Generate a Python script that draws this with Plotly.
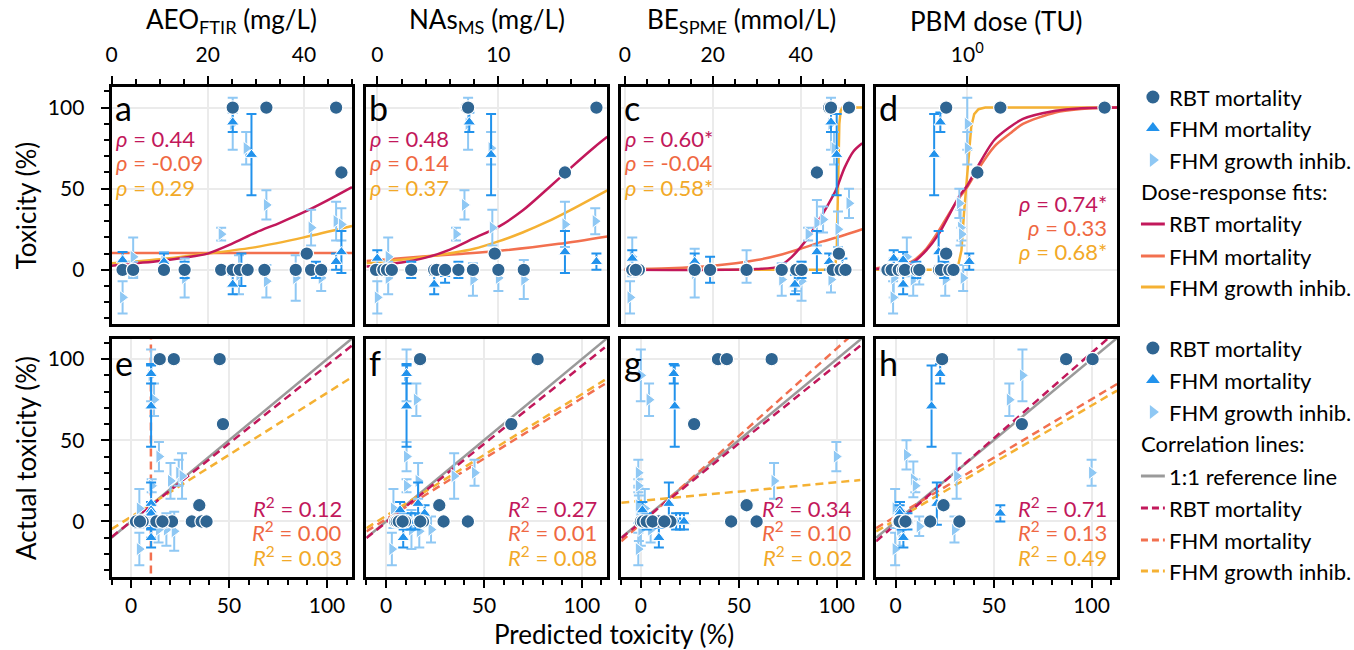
import math
import plotly.graph_objects as go

W, H = 1354, 650
FONT = "Lato"

C_RBT = "#2f6592"
C_FHM = "#2192ec"
C_GRO = "#8fc8f4"
C_L_RBT = "#c2185b"
C_L_FHM = "#f2704f"
C_L_GRO = "#f5b133"
C_GRAY = "#9a9a9a"

# ---------------- panel a : AEO_FTIR (mg/L) vs toxicity ----------------
a_rbt_x = [2.3, 4.5, 10.9, 15.2, 22.8, 25.2, 26.7, 28.3, 31.8, 38.3, 41.5, 43.6, 40.6, 25.2, 32.2, 46.7, 47.8]
a_rbt_y = [0, 0, 0, 0, 0, 0, 0, 0, 0, 0, 0, 0, 10, 100, 100, 100, 60]
a_fhm_x = [2.3, 10.9, 25.2, 29.1, 47.8, 46.7, 25.2, 27.0, 15.2, 42.5]
a_fhm_y = [6, 5, 91, 71, 11, 5, -9, 0, 0, 0]
a_fhm_e = [5, 5, 6, 25, 13, 5, 6, 10, 5, 5]
a_gro_x = [2.3, 4.5, 10.9, 15.2, 22.8, 25.2, 28.0, 32.2, 32.2, 38.3, 41.5, 43.6, 46.7, 47.8, 26.5, 4.5]
a_gro_y = [-17, 8, 5, -5, 22, 90, 75, 40, -7, -5, 26, -5, 30, 28, -3, 0]
a_gro_e = [10, 12, 6, 12, 4, 16, 10, 9, 10, 14, 11, 8, 12, 10, 12, 5]
a_fit_rbt_x = [0, 5, 10, 15, 20, 25, 30, 35, 40, 45, 50]
a_fit_rbt_y = [2.5, 4, 5.5, 7.5, 10, 16, 23, 29, 35.5, 43, 51]
a_fit_fhm_x = [0, 50]
a_fit_fhm_y = [10.3, 10.3]
a_fit_gro_x = [0, 10, 20, 30, 40, 50]
a_fit_gro_y = [4, 6.5, 10, 14, 20, 27]

# ---------------- panel b : NAs_MS (mg/L) ----------------
b_rbt_x = [-0.1, 0.5, 0.8, 1.2, 2.8, 4.7, 4.9, 5.6, 6.7, 7.9, 10.0, 12.1, 9.7, 7.4, 7.5, 18.1, 15.5]
b_rbt_y = [0, 0, 0, 0, 0, 0, 0, 0, 0, 0, 0, 0, 10, 100, 100, 100, 60]
b_fhm_x = [0.0, 7.6, 9.4, 15.5, 18.1, 4.7, 6.7, 5.6, 2.8]
b_fhm_y = [7, 91, 71, 11, 5, -9, 0, -3, 0]
b_fhm_e = [5, 6, 25, 13, 5, 6, 5, 5, 5]
b_gro_x = [0.0, 0.9, 0.9, 7.2, 6.5, 9.5, 9.4, 7.5, 15.5, 18.0, 7.9, 12.1, 10.0, 2.8]
b_gro_y = [-17, 8, -5, 40, 22, 26, 75, 90, 28, 30, -6, -6, -5, 0]
b_gro_e = [10, 12, 10, 9, 4, 11, 10, 16, 14, 8, 10, 12, 8, 5]
b_fit_rbt_x = [-0.9, 2, 4, 6, 8, 10, 12, 14, 16, 18, 19]
b_fit_rbt_y = [2, 4.5, 7.5, 12.5, 19.5, 26.5, 36.5, 49.5, 63, 76, 82]
b_fit_fhm_x = [-0.9, 4, 10, 15, 19]
b_fit_fhm_y = [5.5, 8.3, 11.6, 16, 20.6]
b_fit_gro_x = [-0.9, 4, 8, 10, 12, 14, 16, 18, 19]
b_fit_gro_y = [4, 8, 13, 17.5, 23, 29.5, 37, 45, 49]

# ---------------- panel c : BE_SPME (mmol/L) ----------------
c_rbt_x = [1.7, 3.2, 15.9, 19.4, 27.7, 35.7, 39.0, 40.2, 47.3, 49.1, 50.2, 2.5, 48.7, 46.5, 46.9, 51.0, 43.7]
c_rbt_y = [0, 0, 0, 0, 0, 0, 0, 0, 0, 0, 0, 0, 10, 100, 100, 100, 60]
c_fhm_x = [1.7, 15.9, 19.4, 46.9, 48.2, 43.7, 46.5, 38.7, 49.5, 40.2]
c_fhm_y = [7, 5, 0, 91, 71, 11, 5, -9, 2, 0]
c_fhm_e = [5, 5, 8, 6, 25, 13, 5, 6, 5, 5]
c_gro_x = [1.2, 1.7, 15.9, 27.7, 35.7, 40.2, 41.7, 43.7, 45.1, 47.6, 46.9, 48.5, 51.0, 46.9, 39.0]
c_gro_y = [-17, 8, -2, 2, -6, -7, 22, 29, 31, 75, 90, 25, 41, -6, -5]
c_gro_e = [10, 12, 15, 10, 10, 12, 4, 14, 8, 10, 16, 11, 9, 8, 8]
c_fit_rbt_x = [0, 30, 35, 38, 40, 42, 44, 46, 48, 50, 52, 54]
c_fit_rbt_y = [0, 0.5, 2, 8, 14, 21, 30, 39, 49, 63, 73, 78]
c_fit_fhm_x = [0, 10, 20, 30, 35, 40, 45, 50, 54]
c_fit_fhm_y = [0.5, 1, 2.5, 6, 9, 13, 17.5, 21.5, 25]
c_fit_gro_x = [0, 46, 47.8, 48.2, 48.5, 48.8, 49.1, 49.5, 54]
c_fit_gro_y = [0, 0, 1, 10, 50, 90, 98, 100, 100]

# ---------------- panel d : PBM dose (TU) ----------------
d_rbt_x = [0.366, 0.37, 0.39, 0.426, 0.45, 0.46, 0.533, 0.55, 0.703, 0.72, 0.80, 0.842, 0.769, 0.769, 1.51, 5.53, 1.134]
d_rbt_y = [0, 0, 0, 0, 0, 0, 0, 0, 0, 0, 0, 0, 10, 100, 100, 100, 60]
d_fhm_x = [0.40, 0.45, 0.715, 0.662, 0.70, 1.025, 0.45, 0.75, 0.53]
d_fhm_y = [7, 6, 91, 71, 11, 5, -9, 0, 0]
d_fhm_e = [5, 5, 6, 25, 13, 5, 6, 5, 5]
d_gro_x = [0.397, 0.471, 1.0, 1.0, 0.906, 0.92, 0.93, 0.76, 0.51, 0.95, 0.40, 0.55]
d_gro_y = [-17, 8, 90, 75, 41, 26, 22, -6, -6, -5, -5, -3]
d_gro_e = [10, 12, 16, 10, 9, 11, 4, 10, 10, 8, 12, 6]
d_fit_rbt_x = [0.32, 0.4, 0.5, 0.6, 0.7, 0.8, 0.9, 1.0, 1.13, 1.4, 1.7, 2.0, 3.0, 4.0, 6.46]
d_fit_rbt_y = [0.5, 1.5, 4, 12, 22, 34, 45, 52, 63, 80, 88, 93, 98, 99.5, 100]
d_fit_fhm_x = [0.32, 0.4, 0.5, 0.6, 0.7, 0.8, 0.9, 1.0, 1.13, 1.4, 1.7, 2.0, 3.0, 4.0, 6.46]
d_fit_fhm_y = [1, 2.5, 5, 13, 24, 35, 44, 51, 61, 76, 84, 90, 97, 99, 100]
d_fit_gro_x = [0.32, 0.85, 0.89, 0.93, 0.96, 0.99, 1.02, 1.05, 1.09, 1.15, 1.25, 6.46]
d_fit_gro_y = [0, 0, 2, 12, 35, 55, 75, 88, 96, 99, 100, 100]
d_minor_ticks = [0.4, 0.5, 0.6, 0.7, 0.8, 0.9, 2, 3, 4, 5, 6]

# ---------------- panel e : predicted vs actual (AEO) ----------------
e_rbt_x = [3.4, 5.9, 12.9, 17.6, 20.9, 31, 36, 38.5, 2.5, 4.5, 16, 34.8, 14.6, 21.8, 45.2, 46.9]
e_rbt_y = [0, 0, 0, 0, 0, 0, 0, 0, 0, 0, 0, 10, 100, 100, 100, 60]
e_fhm_x = [10.2, 10.2, 10.2, 10.2, 10.2, 10.2, 10.2, 10.2, 10.2]
e_fhm_y = [91, 71, 11, 7, 5, 5, 0, -10, 0]
e_fhm_e = [6, 25, 13, 5, 5, 5, 5, 6, 10]
e_gro_x = [10.2, 11.7, 14.2, 20.1, 24.3, 4.2, 4.2, 10.5, 18, 22, 14, 26]
e_gro_y = [90, 75, 40, 25, 30, 8, -17, 22, -5, -6, -5, 28]
e_gro_e = [16, 10, 9, 11, 8, 12, 10, 4, 10, 12, 8, 14]
e_reg_rbt = ([-10, 112.6], [-9.6, 108.2])
e_reg_fhm = ([10.1, 10.1], [-40, 120])
e_reg_gro = ([-10, 112.6], [-4.7, 88.8])

# ---------------- panel f : predicted vs actual (NAs) ----------------
f_rbt_x = [4.7, 7.2, 9.7, 18.9, 29.4, 41.8, 5.5, 6.5, 8.5, 17.5, 27.2, 17.2, 17.4, 77.4, 64]
f_rbt_y = [0, 0, 0, 0, 0, 0, 0, 0, 0, 0, 10, 100, 100, 100, 60]
f_fhm_x = [10.5, 10.5, 16.4, 19.7, 7.2, 8.8, 9, 12.5, 15]
f_fhm_y = [91, 71, 11, 5, 7, -10, 0, 0, 0]
f_fhm_e = [6, 25, 13, 5, 5, 6, 5, 5, 5]
f_gro_x = [10.5, 15.5, 10.5, 10.5, 34.8, 45.2, 16.4, 3.0, 3.8, 23, 17, 13]
f_gro_y = [90, 75, 40, 22, 28, 30, 25, -17, 8, -5, -6, -5]
f_gro_e = [16, 10, 9, 4, 14, 8, 11, 10, 12, 8, 10, 12]
f_reg_rbt = ([-10, 111.7], [-10.2, 107.2])
f_reg_fhm = ([-10, 111.7], [-6.1, 84.7])
f_reg_gro = ([-10, 111.7], [-4.1, 87.2])

# ---------------- panel g : predicted vs actual (BE) ----------------
g_rbt_x = [0, 5, 9.2, 15.1, 46.1, 59.1, 1, 3, 6, 12, 54, 39.4, 43.9, 66.8, 27.2]
g_rbt_y = [0, 0, 0, 0, 0, 0, 0, 0, 0, 0, 10, 100, 100, 100, 60]
g_fhm_x = [16.8, 17.3, 14.3, 0.8, 20, 9.2, 18, 22, 3]
g_fhm_y = [91, 71, 11, 7, 0, -10, 0, 0, 0]
g_fhm_e = [6, 25, 13, 5, 5, 6, 5, 5, 5]
g_gro_x = [0, 4.2, -1.3, -1.3, -1.3, 68, 99.8, -1.3, 0, 2, 5, -1]
g_gro_y = [90, 75, 30, 22, 10, 25, 40, -17, -5, 8, -5, 2]
g_gro_e = [16, 10, 8, 4, 11, 11, 9, 10, 10, 12, 8, 14]
g_reg_rbt = ([-10, 112], [-10.2, 108.2])
g_reg_fhm = ([-10, 113], [-12.2, 120.6])
g_reg_gro = ([-10, 112], [11.6, 25.5])

# ---------------- panel h : predicted vs actual (PBM) ----------------
h_rbt_x = [1.4, 2.5, 3, 5.5, 17.6, 32.5, 1.8, 4, 2, 24.4, 23.7, 87, 100.5, 64.4, 5]
h_rbt_y = [0, 0, 0, 0, 0, 0, 0, 0, 0, 10, 100, 100, 100, 60, 0]
h_fhm_x = [22.7, 18.3, 53.4, 21, 2.2, 3.9, 3, 6, 2]
h_fhm_y = [91, 71, 5, 11, 7, -10, 0, 0, 5]
h_fhm_e = [6, 25, 5, 13, 5, 6, 5, 5, 5]
h_gro_x = [64.7, 58, 100, 31.1, 5.5, 9, 10, -0.3, -0.3, 30, 12, 2]
h_gro_y = [90, 75, 30, 28, 41, 26, 22, -17, 8, -5, -3, -5]
h_gro_e = [16, 10, 8, 14, 9, 11, 4, 10, 12, 8, 6, 10]
h_reg_rbt = ([-10, 113], [-12.2, 117.6])
h_reg_fhm = ([-10, 113], [-4.1, 84.7])
h_reg_gro = ([-10, 113], [-6.1, 80.6])

ref_line = ([-10, 113], [-10, 113])

# statistics text
rho_a = ["0.44", "-0.09", "0.29"]
rho_b = ["0.48", "0.14", "0.37"]
rho_c = ["0.60*", "-0.04", "0.58*"]
rho_d = ["0.74*", "0.33", "0.68*"]
r2_e = ["0.12", "0.00", "0.03"]
r2_f = ["0.27", "0.01", "0.08"]
r2_g = ["0.34", "0.10", "0.02"]
r2_h = ["0.71", "0.13", "0.49"]

top_titles = ["AEO<sub>FTIR</sub> (mg/L)", "NAs<sub>MS</sub> (mg/L)",
              "BE<sub>SPME</sub> (mmol/L)", "PBM dose (TU)"]
letters = ["a", "b", "c", "d", "e", "f", "g", "h"]
legend_labels = ["RBT mortality", "FHM mortality", "FHM growth inhib."]

# ---------------- layout geometry (pixels) ----------------
PL = [106, 362, 618, 874]
PR = [348, 604, 860, 1116]
TOP_Y = (87, 324)
BOT_Y = (339, 577)
TOP_RANGE = [-33.4, 112.7]
BOT_RANGE = [-34.2, 112.4]

fig = go.Figure()


def ax_ids(i):
    s = "" if i == 1 else str(i)
    return "x" + s, "y" + s


def add_lines(i, xs, ys, color, dash="solid", shape="linear"):
    xa, ya = ax_ids(i)
    line = dict(color=color, width=2.5, dash=dash, shape=shape)
    if shape == "spline":
        line["smoothing"] = 0.8
    fig.add_trace(go.Scatter(x=xs, y=ys, mode="lines", line=line, xaxis=xa, yaxis=ya,
                             showlegend=False, hoverinfo="skip"))


def add_points(i, rx, ry, fx, fy, fe, gx, gy, ge):
    xa, ya = ax_ids(i)
    fig.add_trace(go.Scatter(
        x=gx, y=gy, mode="markers", xaxis=xa, yaxis=ya, showlegend=False,
        marker=dict(symbol="triangle-right", size=12, color=C_GRO, line=dict(color="white", width=1)),
        error_y=dict(type="data", array=ge, color=C_GRO, thickness=2, width=5)))
    fig.add_trace(go.Scatter(
        x=fx, y=fy, mode="markers", xaxis=xa, yaxis=ya, showlegend=False,
        marker=dict(symbol="triangle-up", size=11, color=C_FHM, line=dict(color="white", width=1)),
        error_y=dict(type="data", array=fe, color=C_FHM, thickness=2, width=5)))
    fig.add_trace(go.Scatter(
        x=rx, y=ry, mode="markers", xaxis=xa, yaxis=ya, showlegend=False,
        marker=dict(symbol="circle", size=13.5, color=C_RBT, line=dict(color="white", width=1.2))))


# top row fits
add_lines(1, a_fit_fhm_x, a_fit_fhm_y, C_L_FHM)
add_lines(1, a_fit_gro_x, a_fit_gro_y, C_L_GRO, shape="spline")
add_lines(1, a_fit_rbt_x, a_fit_rbt_y, C_L_RBT, shape="spline")
add_points(1, a_rbt_x, a_rbt_y, a_fhm_x, a_fhm_y, a_fhm_e, a_gro_x, a_gro_y, a_gro_e)

add_lines(2, b_fit_fhm_x, b_fit_fhm_y, C_L_FHM, shape="spline")
add_lines(2, b_fit_gro_x, b_fit_gro_y, C_L_GRO, shape="spline")
add_lines(2, b_fit_rbt_x, b_fit_rbt_y, C_L_RBT, shape="spline")
add_points(2, b_rbt_x, b_rbt_y, b_fhm_x, b_fhm_y, b_fhm_e, b_gro_x, b_gro_y, b_gro_e)

add_lines(3, c_fit_fhm_x, c_fit_fhm_y, C_L_FHM, shape="spline")
add_lines(3, c_fit_gro_x, c_fit_gro_y, C_L_GRO)
add_lines(3, c_fit_rbt_x, c_fit_rbt_y, C_L_RBT, shape="spline")
add_points(3, c_rbt_x, c_rbt_y, c_fhm_x, c_fhm_y, c_fhm_e, c_gro_x, c_gro_y, c_gro_e)

add_lines(4, d_fit_gro_x, d_fit_gro_y, C_L_GRO)
add_lines(4, d_fit_fhm_x, d_fit_fhm_y, C_L_FHM, shape="spline")
add_lines(4, d_fit_rbt_x, d_fit_rbt_y, C_L_RBT, shape="spline")
add_points(4, d_rbt_x, d_rbt_y, d_fhm_x, d_fhm_y, d_fhm_e, d_gro_x, d_gro_y, d_gro_e)

# bottom row
bottom = [
    (5, e_reg_rbt, e_reg_fhm, e_reg_gro, (e_rbt_x, e_rbt_y, e_fhm_x, e_fhm_y, e_fhm_e, e_gro_x, e_gro_y, e_gro_e)),
    (6, f_reg_rbt, f_reg_fhm, f_reg_gro, (f_rbt_x, f_rbt_y, f_fhm_x, f_fhm_y, f_fhm_e, f_gro_x, f_gro_y, f_gro_e)),
    (7, g_reg_rbt, g_reg_fhm, g_reg_gro, (g_rbt_x, g_rbt_y, g_fhm_x, g_fhm_y, g_fhm_e, g_gro_x, g_gro_y, g_gro_e)),
    (8, h_reg_rbt, h_reg_fhm, h_reg_gro, (h_rbt_x, h_rbt_y, h_fhm_x, h_fhm_y, h_fhm_e, h_gro_x, h_gro_y, h_gro_e)),
]
DASH = "8px,5px"
for i, rr, rf, rg, pts in bottom:
    add_lines(i, ref_line[0], ref_line[1], C_GRAY)
    add_lines(i, rg[0], rg[1], C_L_GRO, dash=DASH)
    add_lines(i, rf[0], rf[1], C_L_FHM, dash=DASH)
    add_lines(i, rr[0], rr[1], C_L_RBT, dash=DASH)
    add_points(i, *pts)

# ---------------- axes ----------------
TICK_SIZE = 21
tickfont = dict(family=FONT, size=TICK_SIZE, color="black")
base = dict(showline=True, linecolor="black", linewidth=3, mirror=True,
            showgrid=True, gridcolor="#ebebeb", gridwidth=1.5, zeroline=False,
            tickfont=tickfont, tickcolor="black", ticklen=8, tickwidth=2)


def minor_lin(dt):
    return dict(dtick=dt, tick0=0, ticks="outside", ticklen=5, tickwidth=2,
                tickcolor="black", showgrid=False)


layout = dict(width=W, height=H, margin=dict(l=0, r=0, t=0, b=0),
              plot_bgcolor="rgba(0,0,0,0)", paper_bgcolor="white",
              font=dict(family=FONT, color="black"), showlegend=False)

top_x_cfg = [
    dict(range=[0, 50.1], tick0=0, dtick=20, minor=minor_lin(5)),
    dict(range=[-0.9, 19], tick0=0, dtick=10, minor=minor_lin(2)),
    dict(range=[-0.8, 54], tick0=0, dtick=20, minor=minor_lin(5)),
    dict(type="log", range=[-0.493, 0.81], tickmode="array", tickvals=[1], ticktext=["10<sup>0</sup>"]),
]

for k in range(8):
    i = k + 1
    col = k % 4
    top = k < 4
    s = "" if i == 1 else str(i)
    ypix = TOP_Y if top else BOT_Y
    xd = [PL[col] / W, PR[col] / W]
    yd = [1 - ypix[1] / H, 1 - ypix[0] / H]
    xa = dict(base, domain=xd, anchor="y" + s, ticks="outside")
    if top:
        xa.update(side="top", ticklabelstandoff=6)
        xa.update(top_x_cfg[col])
    else:
        xa.update(range=[-10, 113], tick0=0, dtick=50, minor=minor_lin(10))
    ya = dict(base, domain=yd, anchor="x" + s, range=TOP_RANGE if top else BOT_RANGE,
              tick0=0, dtick=50)
    if col == 0:
        ya.update(ticks="outside", minor=minor_lin(10), ticklabelstandoff=12)
    else:
        ya.update(ticks="", showticklabels=False)
    layout["xaxis" + s] = xa
    layout["yaxis" + s] = ya

# minor ticks of the log axis (panel d) on a linear overlay in log10 units
layout["xaxis10"] = dict(overlaying="x4", anchor="y4", side="top", range=[-0.493, 0.81],
                         tickmode="array", tickvals=[math.log10(v) for v in d_minor_ticks],
                         ticks="outside", ticklen=5, tickwidth=2, tickcolor="black",
                         showticklabels=False, showgrid=False, zeroline=False, showline=False)

# overlay pixel axis for legend symbols
layout["xaxis9"] = dict(domain=[0, 1], range=[0, W], visible=False, anchor="y9")
layout["yaxis9"] = dict(domain=[0, 1], range=[H, 0], visible=False, anchor="x9")

fig.update_layout(**layout)

# ---------------- legends ----------------
LEG_MX, LEG_TX, LEG_L0, LEG_L1 = 1152, 1167, 1140, 1164
LEG_SIZE = 22
sym_style = [
    dict(symbol="circle", size=13, color=C_RBT),
    dict(symbol="triangle-up", size=12, color=C_FHM),
    dict(symbol="triangle-right", size=12, color=C_GRO),
]
annots = []


def txt(x, y, text, size, color="black", xanchor="left", yanchor="middle", angle=0):
    annots.append(dict(x=x / W, y=1 - y / H, xref="paper", yref="paper", text=text, showarrow=False,
                       xanchor=xanchor, yanchor=yanchor, textangle=angle, borderpad=0,
                       font=dict(family=FONT, size=size, color=color)))


blocks = [
    ([97, 128, 160], ("Dose-response fits:", 192),
     [("RBT mortality", C_L_RBT, 224), ("FHM mortality", C_L_FHM, 256), ("FHM growth inhib.", C_L_GRO, 287)],
     "solid"),
    ([348, 380, 412], ("Correlation lines:", 444),
     [("1:1 reference line", C_GRAY, 476), ("RBT mortality", C_L_RBT, 508),
      ("FHM mortality", C_L_FHM, 540), ("FHM growth inhib.", C_L_GRO, 571)],
     "dash"),
]
for ys, head, line_cols, dashes in blocks:
    for j, y in enumerate(ys):
        fig.add_trace(go.Scatter(x=[LEG_MX], y=[y], mode="markers", marker=sym_style[j],
                                 xaxis="x9", yaxis="y9", showlegend=False, hoverinfo="skip"))
        txt(LEG_TX, y, legend_labels[j], LEG_SIZE)
    txt(LEG_L0 - 1, head[1], head[0], LEG_SIZE)
    for lab, colr, y in line_cols:
        d = "solid" if (dashes == "solid" or lab.startswith("1:1")) else "7px,4px"
        fig.add_trace(go.Scatter(x=[LEG_L0, LEG_L1], y=[y, y], mode="lines",
                                 line=dict(color=colr, width=3, dash=d),
                                 xaxis="x9", yaxis="y9", showlegend=False, hoverinfo="skip"))
        txt(LEG_TX, y, lab, LEG_SIZE)

# axis titles
TITLE_SIZE = 26
centers = [(PL[c] + PR[c]) / 2 for c in range(4)]
for c in range(4):
    txt(centers[c], 21, top_titles[c], TITLE_SIZE, xanchor="center")
txt(20, (TOP_Y[0] + TOP_Y[1]) / 2, "Toxicity (%)", TITLE_SIZE, xanchor="center", angle=-90)
txt(20, (BOT_Y[0] + BOT_Y[1]) / 2, "Actual toxicity (%)", TITLE_SIZE, xanchor="center", angle=-90)
txt((PL[0] + PR[3]) / 2, 634, "Predicted toxicity (%)", TITLE_SIZE, xanchor="center")

# panel letters
for k in range(8):
    col = k % 4
    y = 107 if k < 4 else 362
    txt(PL[col] + 2, y, letters[k], 34)

# statistics
stat_cols = [C_L_RBT, "#ef6842", "#f2a928"]
for c, vals in enumerate([rho_a, rho_b, rho_c]):
    for j, v in enumerate(vals):
        txt(PL[c] + 3, 138 + 24.5 * j, "<i>ρ</i> = " + v, 22, color=stat_cols[j])
for j, v in enumerate(rho_d):
    txt(PR[3] - 9, 203 + 24.5 * j, "<i>ρ</i> = " + v, 22, color=stat_cols[j], xanchor="right")
for c, vals in enumerate([r2_e, r2_f, r2_g, r2_h]):
    for j, v in enumerate(vals):
        txt(PR[c] - 9, 507 + 24.5 * j, "<i>R</i><sup>2</sup> = " + v, 22, color=stat_cols[j], xanchor="right")

fig.update_layout(annotations=annots)
fig.write_html("out.html", config={"displayModeBar": False},
               post_script="document.body.style.margin='0';document.body.style.overflow='hidden';")
